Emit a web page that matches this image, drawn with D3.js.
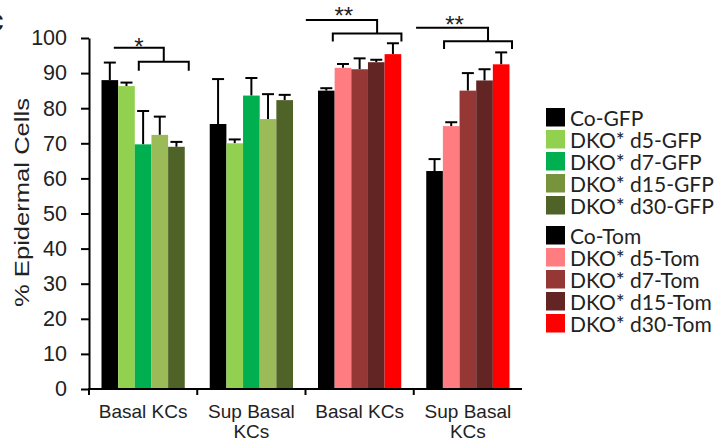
<!DOCTYPE html>
<html>
<head>
<meta charset="utf-8">
<script src="https://cdn.jsdelivr.net/npm/d3@7"></script>
<style>
  body { margin: 0; background: #fff; }
  svg text { font-family: "Liberation Sans", Arial, sans-serif; fill: #222; }
</style>
</head>
<body>
<svg id="chart" width="727" height="445"></svg>
<script>
// categories on the x axis (two per reporter)
var categories = ["Basal KCs", "Sup Basal KCs", "Basal KCs", "Sup Basal KCs"];
var gfpSeries = ["Co-GFP", "DKO* d5-GFP", "DKO* d7-GFP", "DKO* d15-GFP", "DKO* d30-GFP"];
var tomSeries = ["Co-Tom", "DKO* d5-Tom", "DKO* d7-Tom", "DKO* d15-Tom", "DKO* d30-Tom"];
var gfpColors = ["#000000", "#92D050", "#00B050", "#9BBB59", "#4F6228"];
var gfpLegendColors = ["#000000", "#92D050", "#00B050", "#77933C", "#4F6228"];
var tomColors = ["#000000", "#FF7C80", "#953735", "#632523", "#FF0000"];

// mean % per category, one entry per bar
var meanValues = [
    [88.0, 86.3, 69.7, 72.4, 69.0],
    [75.5, 70.0, 83.6, 76.9, 82.3],
    [85.0, 91.5, 91.1, 93.1, 95.4],
    [62.1, 74.9, 85.0, 87.9, 92.5]
];
// upper error (SD)
var errValues = [
    [5.0, 1.0, 9.5, 5.2, 1.4],
    [12.8, 1.1, 5.0, 7.1, 1.5],
    [0.7, 1.1, 3.1, 0.7, 3.1],
    [3.4, 1.1, 5.0, 3.2, 3.4]
];
var yTicks = [0, 10, 20, 30, 40, 50, 60, 70, 80, 90, 100];

// significance brackets: slot units along the bar group, y in data units
var brackets = [
    {cat: 0, label: "*", topStart: 0.74, join: 3.74, low1: 2.24, low2: 5.24, yTop: 97.2, yLow: 93.2, yEnd: 90.7, labelAt: 2.25, labelY: 99.0},
    {cat: 2, label: "**", topStart: -0.73, join: 3.55, low1: 0.89, low2: 5.01, yTop: 105.1, yLow: 101.3, yEnd: 99.0, labelAt: 1.55, labelY: 107.7},
    {cat: 3, label: "**", topStart: -0.61, join: 3.71, low1: 1.07, low2: 5.15, yTop: 102.9, yLow: 99.1, yEnd: 96.9, labelAt: 1.70, labelY: 105.4}
];

var svg = d3.select("#chart");
var plotLeft = 89, plotRight = 522, plotTop = 38, plotBottom = 389;

var x = d3.scaleBand().domain(d3.range(categories.length)).range([plotLeft, plotRight]).paddingInner(0).paddingOuter(0);
var xi = d3.scaleBand().domain(d3.range(5)).range([0, x.bandwidth()]).paddingInner(0).paddingOuter(0.75);
var y = d3.scaleLinear().domain([0, 100]).range([plotBottom, plotTop]);

function slotX(cat, s) {
    return x(cat) + xi(0) + s * xi.step();
}

// bars
var groups = svg.append("g").selectAll("g.grp")
    .data(meanValues)
    .join("g").attr("class", "grp")
    .attr("transform", function (d, i) { return "translate(" + x(i) + ",0)"; });

groups.each(function (vals, gi) {
    var g = d3.select(this);
    var cols = gi < 2 ? gfpColors : tomColors;
    var rows = vals.map(function (v, k) { return {v: v, e: errValues[gi][k], k: k}; });
    // error bars first so bars cover the base
    g.selectAll("line.err").data(rows).join("line").attr("class", "err")
        .attr("x1", function (d) { return xi(d.k) + xi.bandwidth() / 2; })
        .attr("x2", function (d) { return xi(d.k) + xi.bandwidth() / 2; })
        .attr("y1", function (d) { return y(d.v); })
        .attr("y2", function (d) { return y(d.v + d.e); })
        .attr("stroke", "#000").attr("stroke-width", 2);
    g.selectAll("line.cap").data(rows).join("line").attr("class", "cap")
        .attr("x1", function (d) { return xi(d.k) + xi.bandwidth() / 2 - 6; })
        .attr("x2", function (d) { return xi(d.k) + xi.bandwidth() / 2 + 6; })
        .attr("y1", function (d) { return y(d.v + d.e); })
        .attr("y2", function (d) { return y(d.v + d.e); })
        .attr("stroke", "#000").attr("stroke-width", 2);
    g.selectAll("rect").data(rows).join("rect")
        .attr("x", function (d) { return xi(d.k); })
        .attr("width", xi.bandwidth())
        .attr("y", function (d) { return y(d.v); })
        .attr("height", function (d) { return y(0) - y(d.v); })
        .attr("fill", function (d) { return cols[d.k]; });
});

// y axis
var yAxis = svg.append("g")
    .attr("transform", "translate(" + plotLeft + ",0)")
    .call(d3.axisLeft(y).tickValues(yTicks).tickSize(8).tickPadding(14).tickSizeOuter(0));
yAxis.select(".domain").attr("stroke", "#000").attr("stroke-width", 2);
yAxis.selectAll(".tick line").attr("stroke", "#000").attr("stroke-width", 2);
yAxis.selectAll(".tick text").style("font-size", "21.5px").attr("fill", "#222")
    .style("font-family", "'Liberation Sans', Arial, sans-serif");

// x axis
svg.append("line").attr("x1", plotLeft - 1).attr("x2", plotRight).attr("y1", plotBottom).attr("y2", plotBottom)
    .attr("stroke", "#000").attr("stroke-width", 2);
svg.append("g").selectAll("line")
    .data(d3.range(categories.length))
    .join("line")
    .attr("x1", function (d) { return x(d); })
    .attr("x2", function (d) { return x(d); })
    .attr("y1", plotBottom).attr("y2", plotBottom + 6)
    .attr("stroke", "#000").attr("stroke-width", 2);

svg.append("g").selectAll("text")
    .data(categories)
    .join("text")
    .attr("text-anchor", "middle")
    .style("font-size", "19px")
    .each(function (d, i) {
        var t = d3.select(this);
        var cx = x(i) + x.bandwidth() / 2;
        var lines = d === "Sup Basal KCs" ? ["Sup Basal", "KCs"] : [d];
        lines.forEach(function (ln, j) {
            t.append("tspan").attr("x", cx).attr("y", 418 + j * 20).text(ln);
        });
    });

// y label
svg.append("text")
    .attr("transform", "translate(28.5," + 202.5 + ") rotate(-90)")
    .attr("text-anchor", "middle")
    .style("font-size", "21px")
    .attr("textLength", 209).attr("lengthAdjust", "spacingAndGlyphs")
    .text("% Epidermal Cells");

// panel letter, cut by the left edge
svg.append("text").attr("x", -14).attr("y", 31)
    .style("font-size", "32px").style("font-weight", "bold").attr("fill", "#111")
    .text("c");

// brackets
var br = svg.append("g").attr("fill", "none").attr("stroke", "#000").attr("stroke-width", 2);
brackets.forEach(function (b) {
    br.append("path").attr("d",
        "M" + slotX(b.cat, b.topStart) + "," + y(b.yTop) +
        "H" + slotX(b.cat, b.join) + "V" + y(b.yLow));
    br.append("path").attr("d",
        "M" + slotX(b.cat, b.low1) + "," + y(b.yEnd) +
        "V" + y(b.yLow) + "H" + slotX(b.cat, b.low2) + "V" + y(b.yEnd));
    svg.append("text")
        .attr("x", slotX(b.cat, b.labelAt)).attr("y", y(b.labelY) + 13.5)
        .attr("text-anchor", "middle")
        .style("font-size", "24px").attr("fill", "#222")
        .text(b.label);
});

// legend
function legend(names, cols, y0) {
    var lg = svg.append("g").attr("transform", "translate(546," + y0 + ")");
    var rows = lg.selectAll("g").data(names).join("g")
        .attr("transform", function (d, i) { return "translate(0," + i * 22 + ")"; });
    rows.append("rect").attr("width", 19).attr("height", 18.5)
        .attr("fill", function (d, i) { return cols[i]; });
    rows.append("text").attr("x", 24).attr("y", 17.5)
        .style("font-family", "Lato, 'Open Sans', sans-serif")
        .style("font-size", "21px").attr("fill", "#111")
        .text(function (d) { return d; });
}
legend(gfpSeries, gfpLegendColors, 108);
legend(tomSeries, tomColors, 226);
</script>
</body>
</html>
